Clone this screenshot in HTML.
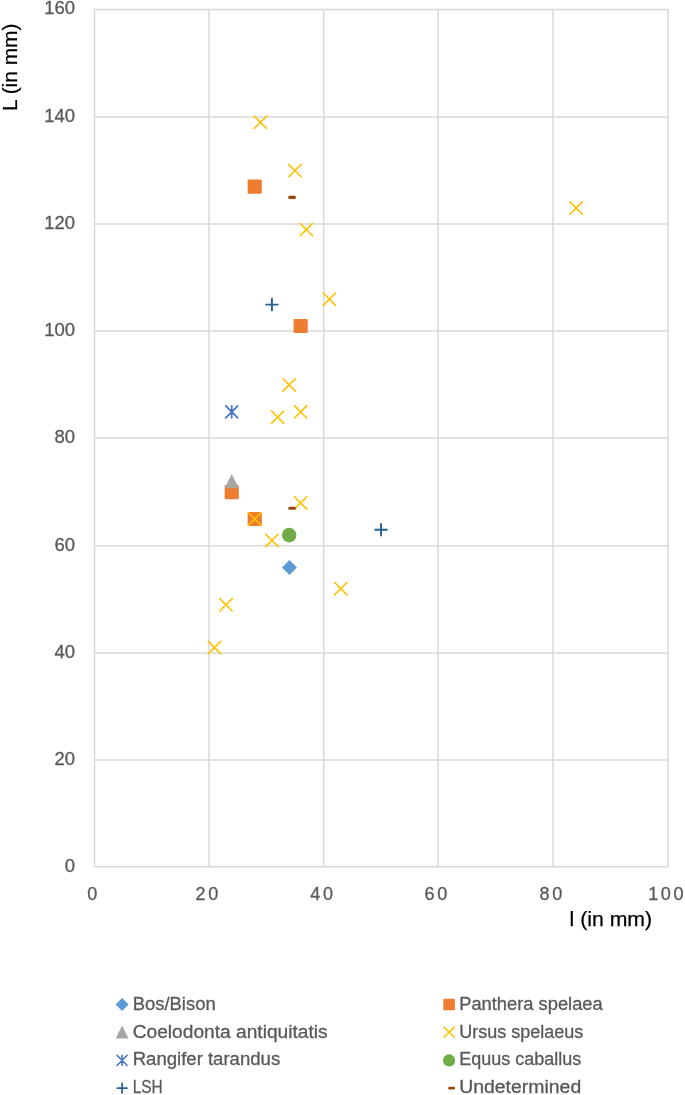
<!DOCTYPE html><html><head><meta charset="utf-8"><style>html,body{margin:0;padding:0;background:#fff;}svg{display:block;will-change:transform;}text{font-family:"Liberation Sans",sans-serif;}</style></head><body>
<svg width="685" height="1095" viewBox="0 0 685 1095">
<rect width="685" height="1095" fill="#fff"/>
<path d="M94.50 9.60V866.80M209.00 9.60V866.80M323.80 9.60V866.80M438.00 9.60V866.80M553.00 9.60V866.80M668.00 9.60V866.80M94.50 866.80H668.00M94.50 760.00H668.00M94.50 653.00H668.00M94.50 545.80H668.00M94.50 438.10H668.00M94.50 331.00H668.00M94.50 224.00H668.00M94.50 116.90H668.00M94.50 9.60H668.00" stroke="#d9d9d9" stroke-width="1.5" fill="none"/>
<text x="75" y="872.15" font-size="18.5" fill="#595959" stroke="#595959" stroke-width="0.3" text-anchor="end">0</text>
<text x="75" y="765.28" font-size="18.5" fill="#595959" stroke="#595959" stroke-width="0.3" text-anchor="end">20</text>
<text x="75" y="658.21" font-size="18.5" fill="#595959" stroke="#595959" stroke-width="0.3" text-anchor="end">40</text>
<text x="75" y="550.94" font-size="18.5" fill="#595959" stroke="#595959" stroke-width="0.3" text-anchor="end">60</text>
<text x="75" y="443.18" font-size="18.5" fill="#595959" stroke="#595959" stroke-width="0.3" text-anchor="end">80</text>
<text x="75" y="336.01" font-size="18.5" fill="#595959" stroke="#595959" stroke-width="0.3" text-anchor="end">100</text>
<text x="75" y="228.94" font-size="18.5" fill="#595959" stroke="#595959" stroke-width="0.3" text-anchor="end">120</text>
<text x="75" y="121.77" font-size="18.5" fill="#595959" stroke="#595959" stroke-width="0.3" text-anchor="end">140</text>
<text x="75" y="14.40" font-size="18.5" fill="#595959" stroke="#595959" stroke-width="0.3" text-anchor="end">160</text>
<text x="93.70" y="899.7" font-size="18" fill="#595959" stroke="#595959" stroke-width="0.3" text-anchor="middle" letter-spacing="2.7">0</text>
<text x="208.20" y="899.7" font-size="18" fill="#595959" stroke="#595959" stroke-width="0.3" text-anchor="middle" letter-spacing="2.7">20</text>
<text x="323.00" y="899.7" font-size="18" fill="#595959" stroke="#595959" stroke-width="0.3" text-anchor="middle" letter-spacing="2.7">40</text>
<text x="437.20" y="899.7" font-size="18" fill="#595959" stroke="#595959" stroke-width="0.3" text-anchor="middle" letter-spacing="2.7">60</text>
<text x="552.20" y="899.7" font-size="18" fill="#595959" stroke="#595959" stroke-width="0.3" text-anchor="middle" letter-spacing="2.7">80</text>
<text x="667.20" y="899.7" font-size="18" fill="#595959" stroke="#595959" stroke-width="0.3" text-anchor="middle" letter-spacing="2.7">100</text>
<text transform="translate(17.1 111) rotate(-90)" font-size="20.5" fill="#000" stroke="#000" stroke-width="0.25" textLength="87.5" lengthAdjust="spacingAndGlyphs">L (in mm)</text>
<text x="569.6" y="926.4" font-size="20.5" fill="#000" stroke="#000" stroke-width="0.25" textLength="82.5" lengthAdjust="spacingAndGlyphs">l (in mm)</text>
<path d="M289.45 560.04L296.95 567.54L289.45 575.04L281.95 567.54Z" fill="#5B9BD5"/>
<rect x="247.61" y="179.55" width="14.2" height="14.2" rx="1.2" fill="#ED7D31"/>
<rect x="293.53" y="318.92" width="14.2" height="14.2" rx="1.2" fill="#ED7D31"/>
<rect x="224.65" y="485.09" width="14.2" height="14.2" rx="1.2" fill="#ED7D31"/>
<rect x="247.61" y="511.89" width="14.2" height="14.2" rx="1.2" fill="#ED7D31"/>
<path d="M231.75 474.27L239.05 488.27L224.45 488.27Z" fill="#A5A5A5"/>
<path d="M254.25 116.12L266.65 128.52M266.65 116.12L254.25 128.52" stroke="#FFC000" stroke-width="1.6" stroke-linecap="round" fill="none"/>
<path d="M288.69 164.37L301.09 176.77M301.09 164.37L288.69 176.77" stroke="#FFC000" stroke-width="1.6" stroke-linecap="round" fill="none"/>
<path d="M300.17 223.33L312.57 235.73M312.57 223.33L300.17 235.73" stroke="#FFC000" stroke-width="1.6" stroke-linecap="round" fill="none"/>
<path d="M569.97 201.89L582.37 214.29M582.37 201.89L569.97 214.29" stroke="#FFC000" stroke-width="1.6" stroke-linecap="round" fill="none"/>
<path d="M323.14 293.02L335.54 305.42M335.54 293.02L323.14 305.42" stroke="#FFC000" stroke-width="1.6" stroke-linecap="round" fill="none"/>
<path d="M282.95 378.78L295.35 391.18M295.35 378.78L282.95 391.18" stroke="#FFC000" stroke-width="1.6" stroke-linecap="round" fill="none"/>
<path d="M271.47 410.95L283.87 423.35M283.87 410.95L271.47 423.35" stroke="#FFC000" stroke-width="1.6" stroke-linecap="round" fill="none"/>
<path d="M294.43 405.59L306.83 417.99M306.83 405.59L294.43 417.99" stroke="#FFC000" stroke-width="1.6" stroke-linecap="round" fill="none"/>
<path d="M294.43 496.71L306.83 509.11M306.83 496.71L294.43 509.11" stroke="#FFC000" stroke-width="1.6" stroke-linecap="round" fill="none"/>
<path d="M248.51 512.79L260.91 525.19M260.91 512.79L248.51 525.19" stroke="#FFC000" stroke-width="1.6" stroke-linecap="round" fill="none"/>
<path d="M265.73 534.24L278.13 546.64M278.13 534.24L265.73 546.64" stroke="#FFC000" stroke-width="1.6" stroke-linecap="round" fill="none"/>
<path d="M334.62 582.48L347.02 594.88M347.02 582.48L334.62 594.88" stroke="#FFC000" stroke-width="1.6" stroke-linecap="round" fill="none"/>
<path d="M219.81 598.56L232.21 610.96M232.21 598.56L219.81 610.96" stroke="#FFC000" stroke-width="1.6" stroke-linecap="round" fill="none"/>
<path d="M208.33 641.44L220.73 653.84M220.73 641.44L208.33 653.84" stroke="#FFC000" stroke-width="1.6" stroke-linecap="round" fill="none"/>
<path d="M225.75 405.79L237.75 417.79M237.75 405.79L225.75 417.79M231.75 405.79V417.79" stroke="#4472C4" stroke-width="1.7" stroke-linecap="round" fill="none"/>
<circle cx="289.15" cy="535.08" r="7.3" fill="#70AD47"/>
<path d="M266.13 304.58H277.73M271.93 298.78V310.38" stroke="#255E91" stroke-width="1.9" stroke-linecap="round" fill="none"/>
<path d="M375.20 529.71H386.80M381.00 523.91V535.51" stroke="#255E91" stroke-width="1.9" stroke-linecap="round" fill="none"/>
<rect x="288.25" y="195.77" width="7.6" height="3.2" rx="1.28" fill="#9E480E"/>
<rect x="288.25" y="506.67" width="7.6" height="3.2" rx="1.28" fill="#9E480E"/>
<path d="M122.10 998.00L128.60 1004.50L122.10 1011.00L115.60 1004.50Z" fill="#5B9BD5"/>
<path d="M122.10 1025.60L128.50 1038.40L115.70 1038.40Z" fill="#A5A5A5"/>
<path d="M117.00 1055.30L127.20 1065.50M127.20 1055.30L117.00 1065.50M122.10 1055.30V1065.50" stroke="#4472C4" stroke-width="1.5" stroke-linecap="round" fill="none"/>
<path d="M117.30 1088.20H126.90M122.10 1083.40V1093.00" stroke="#255E91" stroke-width="1.7" stroke-linecap="round" fill="none"/>
<rect x="443.30" y="998.70" width="11.6" height="11.6" rx="1.0" fill="#ED7D31"/>
<path d="M444.00 1027.10L454.20 1037.30M454.20 1027.10L444.00 1037.30" stroke="#FFC000" stroke-width="1.5" stroke-linecap="round" fill="none"/>
<circle cx="449.10" cy="1060.40" r="6.1" fill="#70AD47"/>
<rect x="448.20" y="1086.80" width="6.8" height="2.8" rx="1.12" fill="#9E480E"/>
<text x="132.7" y="1009.8" font-size="17.5" fill="#595959" stroke="#595959" stroke-width="0.3" textLength="83" lengthAdjust="spacingAndGlyphs">Bos/Bison</text>
<text x="132.7" y="1037.6" font-size="17.5" fill="#595959" stroke="#595959" stroke-width="0.3" textLength="195" lengthAdjust="spacingAndGlyphs">Coelodonta antiquitatis</text>
<text x="132.7" y="1065.4" font-size="17.5" fill="#595959" stroke="#595959" stroke-width="0.3" textLength="147.5" lengthAdjust="spacingAndGlyphs">Rangifer tarandus</text>
<text x="132.7" y="1093.2" font-size="17.5" fill="#595959" stroke="#595959" stroke-width="0.3" textLength="30" lengthAdjust="spacingAndGlyphs">LSH</text>
<text x="459.2" y="1009.8" font-size="17.5" fill="#595959" stroke="#595959" stroke-width="0.3" textLength="143.5" lengthAdjust="spacingAndGlyphs">Panthera spelaea</text>
<text x="459.2" y="1037.6" font-size="17.5" fill="#595959" stroke="#595959" stroke-width="0.3" textLength="124" lengthAdjust="spacingAndGlyphs">Ursus spelaeus</text>
<text x="459.2" y="1065.4" font-size="17.5" fill="#595959" stroke="#595959" stroke-width="0.3" textLength="122" lengthAdjust="spacingAndGlyphs">Equus caballus</text>
<text x="459.2" y="1093.2" font-size="17.5" fill="#595959" stroke="#595959" stroke-width="0.3" textLength="122" lengthAdjust="spacingAndGlyphs">Undetermined</text>
</svg></body></html>
